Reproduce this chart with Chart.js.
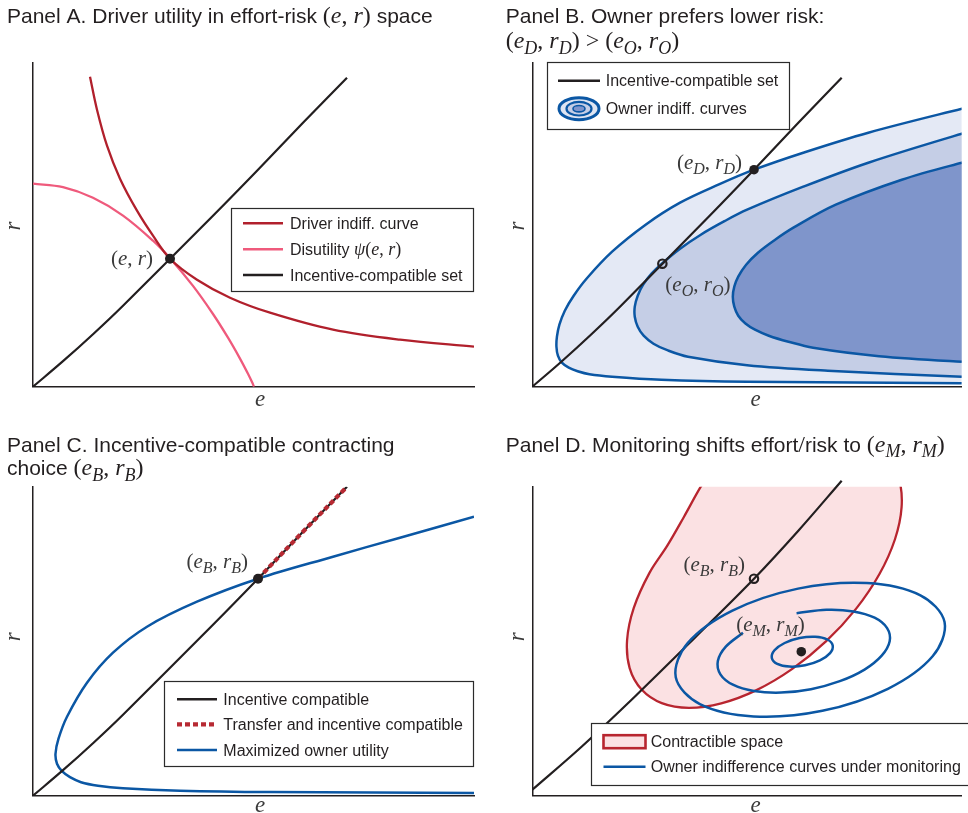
<!DOCTYPE html>
<html>
<head>
<meta charset="utf-8">
<script src="https://cdn.jsdelivr.net/npm/chart.js@4.4.1/dist/chart.umd.min.js"></script>
<style>
  html, body { margin: 0; padding: 0; background: #fff; width: 968px; height: 813px; overflow: hidden; position: relative; }
  canvas { position: absolute; }
</style>
</head>
<body>
<canvas id="pA" width="484" height="410" style="left:0;top:0"></canvas>
<canvas id="pB" width="484" height="410" style="left:484px;top:0"></canvas>
<canvas id="pC" width="484" height="403" style="left:0;top:410px"></canvas>
<canvas id="pD" width="484" height="403" style="left:484px;top:410px"></canvas>
<script>
// ---- Effort (x) / risk (y) curves, arbitrary units ----

// Incentive-compatible set (shared by panels A, B, C)
const icCurve = [[0,0],[30,25.5],[60,52.5],[90,81],[180,171],[225,217],[270,264],[314,309]];

// Panel A
const driverIndiffA = [[57,310],[64,277],[74,241],[87,208],[104,176],[120,151],[137,128],[164,107],[197,89],[237,74],[300,57],[367,47],[441,40]];
const disutilityA = [[0,203],[30,199.5],[60,188.9],[90,171.1],[120,146],[137,128.5],[160,100.8],[180,72.7],[195,49],[207,28.1],[215,12.9],[219,4.6],[221,0]];
const pointA = [[137,128]];

// Panel B: owner indifference curves (outer, middle, inner)
const ownerOuterB = [[470,286],[436,278],[341,254],[275,234],[225,217],[190,202.5],[150,184],[115,162],[81,135],[55,108],[42,91],[33,76],[27.5,62],[25,50],[24.5,40],[26,31],[30,24],[37,19],[46,15.5],[58,12.5],[81,10],[131,7],[218,5],[436,3.5],[470,3.3]];
const ownerMiddleB = [[470,262],[436,253],[341,224],[275,200],[218,177],[195,165.5],[171,152],[150,138],[132,123.5],[121,113],[112.5,102],[107,91],[104,80],[104,70],[107,60],[113,51],[123,43],[137,36.5],[158,30],[218,21.5],[300,16],[436,10],[470,9]];
const ownerInnerB = [[470,232],[436,224],[375,207],[308,182],[265,159],[245,146],[229,134],[217,122],[209,110],[205,100],[203.5,90],[205,80],[209,71],[216,63.5],[226,57],[240,51],[260,45],[285,39],[352,30.5],[436,25],[470,24]];
const pointDriverB = [[225,217]];
const pointOwnerB = [[132,123]];

// Panel C
const ownerUtilityC = [[441,279],[367,258],[300,239],[225,217],[164,194],[114,169],[80,143],[54,113],[34,79],[25.5,57],[22.5,42],[24,32],[29,24.5],[37,18.5],[48,13.5],[65,10],[90,7.5],[147,5],[237,3.6],[441,2.8]];
const transferC = [[225,217],[270,264],[314,309]];
const pointC = [[225,217]];

// Panel D
const icCurveD = [[0,6],[50,49],[105,100],[165,158],[225,217],[270,265],[314,315]];
const contractibleD = [[360.1,337.8],[372.2,316.4],[374.8,288.5],[368,256.2],[352.2,221.4],[328.5,186.8],[298.3,154.5],[263.9,126.8],[227.6,105.6],[191.8,92.4],[159,87.9],[131.4,92.6],[110.9,106.2],[98.8,127.6],[96.2,155.5],[103,187.8],[118.8,222.6],[137,250],[154,279],[171,309],[190,338],[215,360],[255,372],[300,368],[340,351]];
const monitorOuterD = [[418.4,173.6],[393.9,200.4],[339.5,212.7],[269.7,207.1],[203.1,185.1],[157.7,152.6],[145.6,118.4],[170.1,91.6],[224.5,79.3],[294.4,84.9],[360.9,106.9],[406.3,139.4]];
const monitorMiddleD = [[268.2,182.5],[298.5,185.9],[326,184.3],[347.4,178],[360.1,167.6],[362.7,154.4],[354.6,140],[337.2,126.1],[312.1,114.5],[282.8,106.5],[252.5,103.1],[225,104.7],[203.6,111],[190.9,121.4],[188.3,134.6],[196.4,149],[213.8,162.9]];
const monitorInnerD = [[304.9,150.2],[299.4,156.2],[287.1,158.9],[271.3,157.6],[256.1,152.7],[245.8,145.4],[243.1,137.8],[248.6,131.8],[260.9,129.1],[276.8,130.4],[291.9,135.3],[302.2,142.6]];
const pointBD = [[225,217]];
const pointMD = [[273,144]];

// ---- styling ----
const SANS = '"Liberation Sans", Arial, Helvetica, sans-serif';
const SERIF = '"Liberation Serif", "Times New Roman", serif';
const INK = '#231f20';
const LABEL_INK = '#3a3a3a';
const DARK_RED = '#b1202c';
const PINK = '#ef5a7c';
const BLUE = '#0b57a4';
const RED_D = '#b8252f';
const SMOOTH = 0.35;

const pts = a => a.map(([x, y]) => ({ x, y }));

function curve(data, color, width, extra) {
  return Object.assign({
    data: pts(data), showLine: true, borderColor: color, borderWidth: width,
    pointRadius: 0, pointHoverRadius: 0, fill: false, tension: SMOOTH,
    capBezierPoints: false, borderCapStyle: 'butt', borderJoinStyle: 'round'
  }, extra || {});
}
function loop(data, color, width, fillColor, extra) {
  return curve(data, color, width, Object.assign({
    closed: true, spanGaps: true,
    fill: fillColor ? 'shape' : false, backgroundColor: fillColor || 'transparent'
  }, extra || {}));
}
function marker(data, filled, r, order) {
  return {
    data: pts(data), showLine: false, pointRadius: r, pointHoverRadius: r,
    pointBackgroundColor: filled ? INK : 'rgba(0,0,0,0)', pointBorderColor: INK,
    pointBorderWidth: filled ? 0 : 2.2, order: order || 0
  };
}

// Closed curves: let the line element smooth and path all the way round the loop
const closedLoops = {
  id: 'closedLoops',
  afterDatasetUpdate(chart, args) {
    const ds = chart.data.datasets[args.index];
    if (ds && ds.closed) {
      const line = args.meta.dataset;
      line._loop = true;
      line._fullLoop = true;
      delete line._segments;
      line._pointsUpdated = false;
    }
  }
};

// Mixed sans / math text runs: [text, kind] with kind s=sans, u=serif, i=italic, b=italic subscript
function drawRuns(ctx, x, y, parts, f, color, align) {
  const sub = Math.round(f.serif * 0.74);
  const fonts = {
    s: `${f.sans}px ${SANS}`,
    u: `${f.serif}px ${SERIF}`,
    i: `italic ${f.serif}px ${SERIF}`,
    b: `italic ${sub}px ${SERIF}`
  };
  let w = 0;
  for (const [t, k] of parts) { ctx.font = fonts[k]; w += ctx.measureText(t).width; }
  let cx = align === 'right' ? x - w : align === 'center' ? x - w / 2 : x;
  ctx.fillStyle = color;
  ctx.textAlign = 'left';
  ctx.textBaseline = 'alphabetic';
  for (const [t, k] of parts) {
    ctx.font = fonts[k];
    ctx.fillText(t, cx, k === 'b' ? y + f.serif * 0.24 : y);
    cx += ctx.measureText(t).width;
  }
}
function pair(s) {
  const p = [['(', 'u'], ['e', 'i']];
  if (s) p.push([s, 'b']);
  p.push([', ', 'u'], ['r', 'i']);
  if (s) p.push([s, 'b']);
  p.push([')', 'u']);
  return p;
}

const TITLE_FONT = { sans: 21, serif: 24 };
const LABEL_FONT = { sans: 16, serif: 21 };
const LEGEND_FONT = { sans: 16, serif: 18 };

function drawLegend(ctx, L) {
  const [bx, by, bw, bh] = L.box;
  ctx.fillStyle = '#fff';
  ctx.fillRect(bx, by, bw, bh);
  ctx.strokeStyle = '#2b2b2b';
  ctx.lineWidth = 1.2;
  ctx.strokeRect(bx, by, bw, bh);
  const [x0, x1] = L.sym;
  for (const row of L.rows) {
    const y = row.y;
    ctx.save();
    if (row.kind === 'line') {
      ctx.strokeStyle = row.color;
      ctx.lineWidth = row.width || 2.6;
      ctx.setLineDash(row.dash || []);
      ctx.beginPath(); ctx.moveTo(x0, y); ctx.lineTo(x1, y); ctx.stroke();
    } else if (row.kind === 'rect') {
      ctx.fillStyle = row.fill; ctx.strokeStyle = row.color; ctx.lineWidth = 2.6;
      ctx.fillRect(x0, y - 6.5, x1 - x0, 13);
      ctx.strokeRect(x0, y - 6.5, x1 - x0, 13);
    } else if (row.kind === 'rings') {
      const cx = (x0 + x1) / 2;
      const rings = [[20, 11, '#dfe5f2', 3], [12.5, 6.8, '#c5cee6', 2.2], [6, 3.2, '#7f95cb', 1.6]];
      for (const [rx, ry, fc, lw] of rings) {
        ctx.beginPath(); ctx.ellipse(cx, y, rx, ry, 0, 0, Math.PI * 2);
        ctx.fillStyle = fc; ctx.fill();
        ctx.strokeStyle = BLUE; ctx.lineWidth = lw; ctx.stroke();
      }
    }
    ctx.restore();
    drawRuns(ctx, L.textX, y + 5.6, row.parts, LEGEND_FONT, INK, 'left');
  }
}

const decor = {};
const panelDecor = {
  id: 'panelDecor',
  afterDraw(chart) {
    const d = decor[chart.canvas.id];
    if (!d) return;
    const ctx = chart.ctx;
    const xs = chart.scales.x, ys = chart.scales.y;
    ctx.save();
    for (const t of d.titles) drawRuns(ctx, t.x, t.y, t.parts, TITLE_FONT, INK, 'left');
    for (const l of d.labels) {
      drawRuns(ctx, xs.getPixelForValue(l.at[0]) + l.dx, ys.getPixelForValue(l.at[1]) + l.dy, l.parts, LABEL_FONT, LABEL_INK, l.align);
    }
    ctx.fillStyle = LABEL_INK;
    ctx.font = `italic 23px ${SERIF}`;
    ctx.textAlign = 'center';
    ctx.textBaseline = 'alphabetic';
    ctx.fillText('e', d.axisE[0], d.axisE[1]);
    ctx.save();
    ctx.translate(d.axisR[0], d.axisR[1]);
    ctx.rotate(-Math.PI / 2);
    ctx.fillText('r', 0, 5);
    ctx.restore();
    drawLegend(ctx, d.legend);
    ctx.restore();
  }
};

function makeChart(id, padding, xMax, yMax, datasets) {
  const axis = (max, horizontal) => ({
    type: 'linear', min: 0, max: max, display: true,
    grid: { display: false, drawTicks: false },
    ticks: { display: false },
    border: { display: true, color: INK, width: 1.5 },
    afterFit(s) { if (horizontal) s.height = 0; else s.width = 0; }
  });
  return new Chart(document.getElementById(id), {
    type: 'scatter',
    data: { datasets },
    options: {
      responsive: false, animation: false, devicePixelRatio: 1, events: [],
      layout: { padding },
      plugins: { legend: { display: false }, tooltip: { enabled: false }, title: { display: false } },
      scales: { x: axis(xMax, true), y: axis(yMax, false) }
    },
    plugins: [closedLoops, panelDecor]
  });
}

// ---- Panel A ----
decor.pA = {
  titles: [{ x: 7, y: 23, parts: [['Panel A. Driver utility in effort-risk ', 's'], ...pair(''), [' space', 's']] }],
  labels: [{ at: pointA[0], dx: -17, dy: 6, align: 'right', parts: pair('') }],
  axisE: [260, 406], axisR: [15, 226],
  legend: {
    box: [231.5, 208.5, 242, 83], sym: [243, 283], textX: 290,
    rows: [
      { y: 223.3, kind: 'line', color: DARK_RED, parts: [['Driver indiff. curve', 's']] },
      { y: 249.3, kind: 'line', color: PINK, parts: [['Disutility ', 's'], ['\u03C8', 'i'], ...pair('')] },
      { y: 275, kind: 'line', color: INK, parts: [['Incentive-compatible set', 's']] }
    ]
  }
};
makeChart('pA', { left: 33, top: 62.7, right: 10, bottom: 23.3 }, 441, 324, [
  marker(pointA, true, 5, 0),
  curve(driverIndiffA, DARK_RED, 2.3, { order: 1 }),
  curve(disutilityA, PINK, 2.3, { order: 2 }),
  curve(icCurve, INK, 2.2, { order: 3 })
]);

// ---- Panel B ----
decor.pB = {
  titles: [
    { x: 21.7, y: 22.7, parts: [['Panel B. Owner prefers lower risk:', 's']] },
    { x: 21.7, y: 48, parts: [...pair('D'), [' > ', 'u'], ...pair('O')] }
  ],
  labels: [
    { at: pointDriverB[0], dx: -12, dy: -1, align: 'right', parts: pair('D') },
    { at: pointOwnerB[0], dx: 3, dy: 27, align: 'left', parts: pair('O') }
  ],
  axisE: [271.7, 406], axisR: [35, 226],
  legend: {
    box: [63.5, 62.5, 242, 67], sym: [74, 116], textX: 121.7,
    rows: [
      { y: 80.7, kind: 'line', color: INK, parts: [['Incentive-compatible set', 's']] },
      { y: 108.7, kind: 'rings', parts: [['Owner indiff. curves', 's']] }
    ]
  }
};
makeChart('pB', { left: 48.3, top: 62.7, right: 0, bottom: 23.3 }, 435.7, 324, [
  marker(pointDriverB, true, 4.8, 0),
  marker(pointOwnerB, false, 4.2, 0),
  curve(icCurve, INK, 2.2, { order: 2 }),
  loop(ownerInnerB, BLUE, 2.5, '#7f95cb', { order: 4 }),
  loop(ownerMiddleB, BLUE, 2.5, '#c5cee6', { order: 5 }),
  loop(ownerOuterB, BLUE, 2.5, '#e4e9f5', { order: 6 })
]);

// ---- Panel C ----
decor.pC = {
  titles: [
    { x: 7, y: 41.7, parts: [['Panel C. Incentive-compatible contracting', 's']] },
    { x: 7, y: 65, parts: [['choice ', 's'], ...pair('B')] }
  ],
  labels: [{ at: pointC[0], dx: -10, dy: -10.5, align: 'right', parts: pair('B') }],
  axisE: [260, 402], axisR: [15, 226.7],
  legend: {
    box: [164.5, 271.5, 309, 85], sym: [177, 217], textX: 223.3,
    rows: [
      { y: 289.3, kind: 'line', color: INK, parts: [['Incentive compatible', 's']] },
      { y: 314.3, kind: 'line', color: '#b72a33', width: 4.2, dash: [5, 3], parts: [['Transfer and incentive compatible', 's']] },
      { y: 340, kind: 'line', color: BLUE, parts: [['Maximized owner utility', 's']] }
    ]
  }
};
makeChart('pC', { left: 33, top: 76.7, right: 10, bottom: 17.3 }, 441, 309, [
  marker(pointC, true, 5, 0),
  curve(transferC, '#b72a33', 4.2, { borderDash: [5, 3], order: 1 }),
  curve(icCurve, INK, 2.2, { order: 2 }),
  curve(ownerUtilityC, BLUE, 2.5, { order: 3 })
]);

// ---- Panel D ----
decor.pD = {
  titles: [{ x: 21.7, y: 41.7, parts: [['Panel D. Monitoring shifts effort', 's'], ['/', 'u'], ['risk to ', 's'], ...pair('M')] }],
  labels: [
    { at: pointBD[0], dx: -9, dy: -8, align: 'right', parts: pair('B') },
    { at: pointMD[0], dx: 3.5, dy: -21, align: 'right', parts: pair('M') }
  ],
  axisE: [271.7, 402], axisR: [35, 226.7],
  legend: {
    box: [107.5, 313.5, 400, 62], sym: [119.5, 161.5], textX: 166.7,
    rows: [
      { y: 331.7, kind: 'rect', color: RED_D, fill: '#fbe1e3', parts: [['Contractible space', 's']] },
      { y: 356.7, kind: 'line', color: BLUE, parts: [['Owner indifference curves under monitoring', 's']] }
    ]
  }
};
makeChart('pD', { left: 48.3, top: 76.7, right: 0, bottom: 17.3 }, 435.7, 309, [
  marker(pointMD, true, 4.8, 0),
  marker(pointBD, false, 4.2, 0),
  loop(monitorInnerD, BLUE, 2.5, null, { order: 3 }),
  curve(monitorMiddleD, BLUE, 2.5, { order: 3 }),
  loop(monitorOuterD, BLUE, 2.5, null, { order: 3 }),
  curve(icCurveD, INK, 2.2, { order: 5, clip: { left: 0, top: 8, right: 0, bottom: 0 } }),
  loop(contractibleD, RED_D, 2.3, '#fbe1e3', { order: 6 })
]);
</script>
</body>
</html>
